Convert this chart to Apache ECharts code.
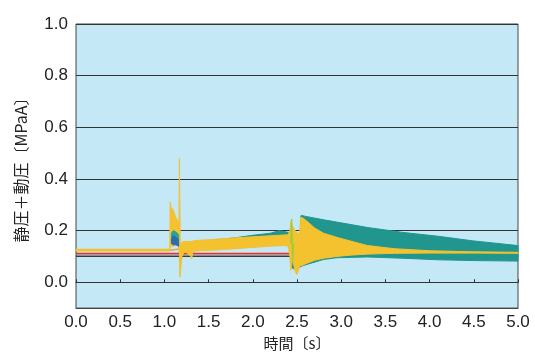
<!DOCTYPE html>
<html>
<head>
<meta charset="utf-8">
<script src="https://cdn.jsdelivr.net/npm/echarts@6/dist/echarts.min.js"></script>
<style>
  html, body { margin: 0; padding: 0; background: #fff; }
  #main { width: 535px; height: 356px; }
</style>
</head>
<body>
<div id="main"></div>
<script>
// 縦軸の目盛
var yTicks = [0.0, 0.2, 0.4, 0.6, 0.8, 1.0];

// 黄色の波形（上下の包絡線）
var yelT  = [0, 1.06, 1.065, 1.075, 1.1, 1.13, 1.155, 1.165, 1.17, 1.175, 1.18, 1.19, 1.2, 1.22, 1.25, 1.3, 1.31, 1.32, 1.4, 1.6, 1.8, 2.0, 2.2, 2.35, 2.4, 2.42, 2.43, 2.45, 2.48, 2.5, 2.53, 2.54, 2.56, 2.6, 2.7, 2.8, 2.95, 3.1, 3.3, 3.6, 4.0, 4.5, 5.0];
var yelHi = [0.128, 0.128, 0.31, 0.29, 0.28, 0.25, 0.235, 0.23, 0.48, 0.30, 0.14, 0.15, 0.155, 0.158, 0.158, 0.158, 0.158, 0.16, 0.163, 0.167, 0.172, 0.176, 0.18, 0.183, 0.184, 0.2, 0.235, 0.215, 0.2, 0.19, 0.19, 0.25, 0.25, 0.24, 0.21, 0.19, 0.174, 0.16, 0.142, 0.13, 0.122, 0.118, 0.116];
var yelLo = [0.121, 0.121, 0.14, 0.14, 0.14, 0.145, 0.15, 0.12, 0.11, 0.02, 0.03, 0.07, 0.1, 0.115, 0.115, 0.1, 0.09, 0.12, 0.122, 0.125, 0.13, 0.135, 0.14, 0.142, 0.14, 0.1, 0.045, 0.09, 0.04, 0.03, 0.06, 0.065, 0.065, 0.072, 0.085, 0.093, 0.1, 0.105, 0.109, 0.112, 0.113, 0.113, 0.112];

// 青緑の波形
var tealT  = [1.2, 1.5, 1.8, 2.0, 2.2, 2.3, 2.38, 2.42, 2.43, 2.47, 2.5, 2.53, 2.545, 2.55, 2.6, 2.8, 2.95, 3.3, 3.7, 4.1, 4.5, 5.0];
var tealHi = [0.15, 0.162, 0.172, 0.182, 0.19, 0.2, 0.195, 0.19, 0.17, 0.15, 0.13, 0.12, 0.259, 0.259, 0.255, 0.242, 0.233, 0.212, 0.193, 0.178, 0.16, 0.142];
var tealLo = [0.13, 0.13, 0.135, 0.14, 0.145, 0.15, 0.15, 0.13, 0.06, 0.05, 0.05, 0.06, 0.06, 0.062, 0.068, 0.088, 0.095, 0.098, 0.093, 0.087, 0.084, 0.082];

// 1.1s付近の内側の波形
var blockT      = [1.08, 1.1, 1.13, 1.16];
var blockTealHi = [0.19, 0.2, 0.195, 0.185];
var blockTealLo = [0.15, 0.155, 0.15, 0.14];
var blockBlueHi = [0.17, 0.18, 0.175, 0.165];
var blockBlueLo = [0.15, 0.145, 0.145, 0.14];

// 細い線
var darkLine   = [[0, 0.101], [2.44, 0.101]];
var redLine    = [[0, 0.111], [2.43, 0.111]];
var pinkLine   = [[1.2, 0.125], [1.8, 0.133], [2.3, 0.145], [2.42, 0.147]];
var orangeLine = [[0, 0.124], [1.06, 0.124], [1.2, 0.13], [2.0, 0.145], [2.42, 0.15], [2.48, 0.15]];
var greenLine  = [[2.43, 0.15], [2.44, 0.245], [2.45, 0.08], [2.46, 0.15]];

function band(name, t, hi, lo, color, z) {
    return {
        type: 'custom',
        name: name,
        z: z,
        silent: true,
        data: t.map(function (x, i) { return [x, hi[i], lo[i]]; }),
        encode: { x: 0, y: [1, 2] },
        renderItem: function (params, api) {
            if (params.dataIndex !== 0) return null;
            var pts = [];
            for (var i = 0; i < t.length; i++) pts.push(api.coord([t[i], hi[i]]));
            for (var j = t.length - 1; j >= 0; j--) pts.push(api.coord([t[j], lo[j]]));
            return {
                type: 'polygon',
                shape: { points: pts },
                style: { fill: color, stroke: color, lineWidth: 1 }
            };
        }
    };
}

function line(name, data, color, z, width) {
    return {
        type: 'line', name: name, z: z, data: data,
        showSymbol: false, silent: true,
        lineStyle: { color: color, width: width || 1.3 }
    };
}

var myChart = echarts.init(document.getElementById('main'));
var option = {
    animation: false,
    grid: {
        left: 76, right: 17, top: 24, bottom: 43,
        show: true, backgroundColor: '#c5e8f7',
        borderColor: '#444', borderWidth: 1
    },
    xAxis: [{
        type: 'value', min: 0, max: 5, interval: 0.5,
        axisLine: { onZero: false, lineStyle: { color: '#444' } },
        axisTick: { show: false },
        splitLine: { show: false },
        axisLabel: {
            formatter: function (v) { return v.toFixed(1); },
            fontSize: 17, color: '#222', margin: 6, fontFamily: 'Liberation Sans'
        },
        name: '時間〔s〕', nameLocation: 'middle', nameGap: 27,
        nameTextStyle: { fontSize: 15, color: '#222', fontFamily: 'Noto Sans CJK JP' }
    }, {
        type: 'value', min: 0, max: 5, interval: 0.5, position: 'bottom',
        axisLine: { onZero: true, lineStyle: { color: '#333' } },
        axisTick: { show: true, inside: true, length: 3, lineStyle: { color: '#333' } },
        axisLabel: { show: false },
        splitLine: { show: false }
    }],
    yAxis: {
        type: 'value', min: -0.1, max: 1.0,
        axisLine: { show: false },
        axisTick: { show: false, customValues: yTicks },
        splitLine: { show: true, lineStyle: { color: '#333', width: 1 } },
        axisLabel: {
            customValues: yTicks,
            formatter: function (v) { return v.toFixed(1); },
            fontSize: 17, color: '#222', margin: 8, fontFamily: 'Liberation Sans'
        },
        name: '静圧＋動圧〔MPaA〕', nameLocation: 'middle', nameGap: 47,
        nameTextStyle: { fontSize: 16, color: '#222', fontFamily: 'Noto Sans CJK JP' }
    },
    series: [
        line('dark', darkLine, '#3b3b30', 2, 1.5),
        line('red', redLine, '#e63228', 2, 1.6),
        line('orange', orangeLine, '#f39a3c', 2),
        line('pink', pinkLine, '#e8508f', 2),
        band('teal', tealT, tealHi, tealLo, '#20968f', 3),
        band('yellow', yelT, yelHi, yelLo, '#f4c22f', 4),
        band('blockTeal', blockT, blockTealHi, blockTealLo, '#2aa39a', 5),
        band('blockBlue', blockT, blockBlueHi, blockBlueLo, '#2a6db5', 6),
        line('green', greenLine, '#9ccc3c', 5)
    ]
};
myChart.setOption(option);
</script>
</body>
</html>
